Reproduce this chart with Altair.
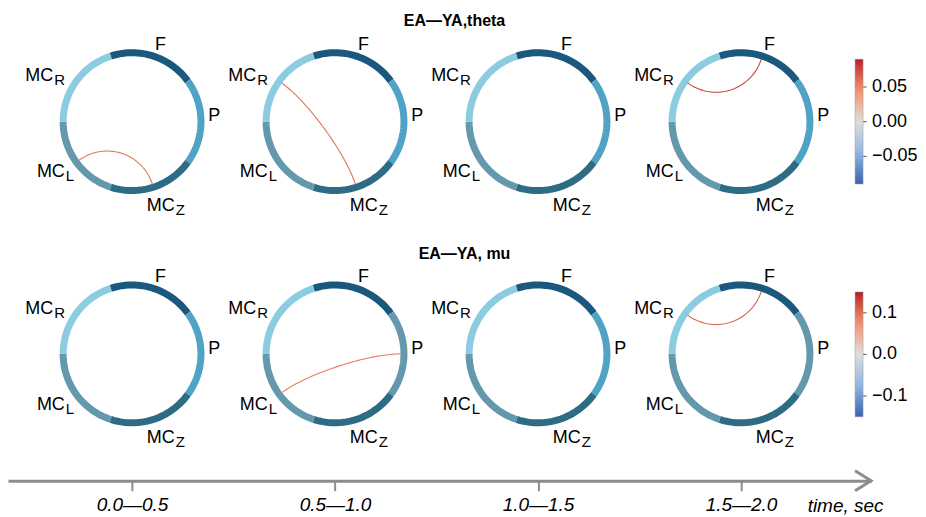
import math
import numpy as np
import pandas as pd
import altair as alt

# ---------------- data ----------------
WINDOW_LABELS = ["0.0—0.5", "0.5—1.0", "1.0—1.5", "1.5—2.0"]
WINDOW_START = [0.0, 0.5, 1.0, 1.5]
WINDOW_END = [0.5, 1.0, 1.5, 2.0]
BANDS = ["theta", "mu"]
BAND_TITLES = ["EA—YA,theta", "EA—YA, mu"]

NODES = ["F", "P", "MC_Z", "MC_L", "MC_R"]
NODE_TEXT = ["F", "P", "MC", "MC", "MC"]
NODE_SUB = ["", "", "Z", "L", "R"]
NODE_ANGLE_DEG = [72, 0, -72, -144, 144]
NODE_COLORS = ["#1a587d", "#50a3c4", "#2e6c85", "#6498ad", "#8ccce0"]
MU_P_COLORS = ["#50a3c4", "#6498ad", "#50a3c4", "#6498ad"]

THETA_WIN = [0, 1, 3]
THETA_FROM = ["MC_L", "MC_R", "MC_R"]
THETA_TO = ["MC_Z", "MC_Z", "F"]
THETA_VAL = [0.055, 0.058, 0.078]

MU_WIN = [1, 3]
MU_FROM = ["MC_L", "MC_R"]
MU_TO = ["P", "F"]
MU_VAL = [0.09, 0.11]

THETA_LIM = 0.09
MU_LIM = 0.15
THETA_TICKS = [-0.05, 0.0, 0.05]
MU_TICKS = [-0.1, 0.0, 0.1]
CMAP = ["#3a62b3", "#92b6e4", "#dddddd", "#f2906f", "#b8172d"]

# ---------------- layout (pixels) ----------------
PX = 406.4            # pixels per second along the time axis
PLOT_W, PLOT_H = 864, 473
X_MID_PX = 429        # pixel position of t = 1.0 s
ROW_PX = [113.5, 346]
R_RING = 69 / PX
R_CHORD = 66 / PX
RING_W = 7
LABEL_ANCHOR_PX = {"F": (34, -71.7), "P": (88.3, -0.3), "MC_Z": (42.7, 89),
                   "MC_L": (-67.3, 55.7), "MC_R": (-79, -40.3)}
TITLE_UP_PX = 95.5
TITLE_DX_PX = [18, 28]
CBAR_X_PX = 848
CBAR_Y_PX = [51, 284]
CBAR_LEN = 125
CBAR_W = 8
GREY = "#8c8c8c"
FONT = "Liberation Sans"

x_min = 1 - X_MID_PX / PX
x_max = x_min + PLOT_W / PX
y_max = 0.0
y_min = -PLOT_H / PX


def row_y(b):
    return -ROW_PX[b] / PX


def win_x(w):
    return (WINDOW_START[w] + WINDOW_END[w]) / 2


def pol(cx, cy, r, deg):
    a = math.radians(deg)
    return cx + r * math.cos(a), cy + r * math.sin(a)


# ring segments
ring = []
for b in range(2):
    for w in range(4):
        cx, cy = win_x(w), row_y(b)
        for n, name in enumerate(NODES):
            col = NODE_COLORS[n]
            if BANDS[b] == "mu" and name == "P":
                col = MU_P_COLORS[w]
            a0 = NODE_ANGLE_DEG[n] - 36
            for k, a in enumerate(np.linspace(a0, a0 + 72, 30)):
                x, y = pol(cx, cy, R_RING, a)
                ring.append(dict(seg=f"{b}-{w}-{n}", k=k, x=x, y=y, color=col))
ring_df = pd.DataFrame(ring)


def chords(b, wins, froms, tos, vals):
    out = []
    cy = row_y(b)
    for i, (w, f, t, v) in enumerate(zip(wins, froms, tos, vals)):
        cx = win_x(w)
        a0 = NODE_ANGLE_DEG[NODES.index(f)]
        a1 = NODE_ANGLE_DEG[NODES.index(t)]
        p0 = pol(cx, cy, R_CHORD, a0)
        c1 = pol(cx, cy, R_CHORD * 0.5, a0)
        c2 = pol(cx, cy, R_CHORD * 0.5, a1)
        p3 = pol(cx, cy, R_CHORD, a1)
        for k, s in enumerate(np.linspace(0, 1, 60)):
            u = 1 - s
            x = u**3 * p0[0] + 3 * u * u * s * c1[0] + 3 * u * s * s * c2[0] + s**3 * p3[0]
            y = u**3 * p0[1] + 3 * u * u * s * c1[1] + 3 * u * s * s * c2[1] + s**3 * p3[1]
            out.append(dict(cid=f"{b}-{i}", k=k, x=x, y=y, value=v))
    return pd.DataFrame(out)


theta_df = chords(0, THETA_WIN, THETA_FROM, THETA_TO, THETA_VAL)
mu_df = chords(1, MU_WIN, MU_FROM, MU_TO, MU_VAL)

labels = []
for b in range(2):
    for w in range(4):
        cx, cy = win_x(w), row_y(b)
        for n, name in enumerate(NODES):
            dx, dy = LABEL_ANCHOR_PX[name]
            labels.append(dict(x=cx + dx / PX, y=cy - dy / PX,
                               main=NODE_TEXT[n], sub=NODE_SUB[n]))
labels_df = pd.DataFrame(labels)

titles_df = pd.DataFrame(dict(x=[1.0 + TITLE_DX_PX[b] / PX for b in range(2)],
                              y=[row_y(b) + TITLE_UP_PX / PX for b in range(2)],
                              text=BAND_TITLES))
arrow_df = pd.DataFrame(dict(x=[x_max], y=[y_min]))

# colorbar tick marks (small dashes right of the gradient)
cb_ticks = []
for lim, ticks, ly in [(THETA_LIM, THETA_TICKS, CBAR_Y_PX[0]), (MU_LIM, MU_TICKS, CBAR_Y_PX[1])]:
    for v in ticks:
        ypx = ly + (lim - v) / (2 * lim) * CBAR_LEN
        cb_ticks.append(dict(x=x_min + (CBAR_X_PX + CBAR_W) / PX,
                             x2=x_min + (CBAR_X_PX + CBAR_W + 3.5) / PX,
                             y=-ypx / PX))
cb_df = pd.DataFrame(cb_ticks)

# ---------------- encodings ----------------
label_expr = ""
for w in range(len(WINDOW_LABELS) - 1):
    label_expr += f"datum.value < {WINDOW_END[w]} ? '{WINDOW_LABELS[w]}' : "
label_expr += f"'{WINDOW_LABELS[-1]}'"

x_axis = alt.Axis(values=[win_x(w) for w in range(4)], labelExpr=label_expr,
                  title="time, sec", titleX=838, titleY=31, titleAlign="center",
                  titleBaseline="alphabetic", titleFontStyle="italic",
                  titleFontWeight="normal", titleFont=FONT, titleFontSize=19,
                  titleColor="black", titleAngle=0,
                  labelFont=FONT, labelFontStyle="italic", labelFontSize=19,
                  labelColor="black", labelPadding=5, tickSize=10, tickWidth=2,
                  tickColor=GREY, domainColor=GREY, domainWidth=3, grid=False,
                  labelFlush=False, labelOverlap=False)


def X(field="x:Q"):
    return alt.X(field, scale=alt.Scale(domain=[x_min, x_max], nice=False, zero=False),
                 axis=x_axis)


def Y():
    return alt.Y("y:Q", scale=alt.Scale(domain=[y_min, y_max], nice=False, zero=False),
                 axis=None)


ring_layer = alt.Chart(ring_df).mark_line(strokeWidth=RING_W, strokeCap="butt").encode(
    x=X(), y=Y(), detail="seg:N", order="k:Q",
    color=alt.Color("color:N", scale=None))


def legend(lim, ticks, fmt, ly):
    return alt.Legend(orient="none", legendX=CBAR_X_PX, legendY=ly, direction="vertical",
                      gradientLength=CBAR_LEN, gradientThickness=CBAR_W, title=None,
                      values=ticks, padding=0,
                      labelExpr=f"replace(format(datum.value, '{fmt}'), '-', '−')",
                      labelFont=FONT, labelFontSize=18, labelColor="black",
                      labelOffset=9, labelOverlap=False,
                      gradientStrokeColor="#999999", gradientStrokeWidth=0.5)


def cscale(lim):
    return alt.Scale(domain=[-lim, -lim / 2, 0, lim / 2, lim], range=CMAP)


theta_layer = alt.Chart(theta_df).mark_line(strokeWidth=1.1).encode(
    x=X(), y=Y(), detail="cid:N", order="k:Q",
    color=alt.Color("value:Q", scale=cscale(THETA_LIM),
                    legend=legend(THETA_LIM, THETA_TICKS, ".2f", CBAR_Y_PX[0])))

mu_layer = alt.Chart(mu_df).mark_line(strokeWidth=1.1).encode(
    x=X(), y=Y(), detail="cid:N", order="k:Q",
    color=alt.Color("value:Q", scale=cscale(MU_LIM),
                    legend=legend(MU_LIM, MU_TICKS, ".1f", CBAR_Y_PX[1])))

cb_tick_layer = alt.Chart(cb_df).mark_rule(color="#555555", strokeWidth=1).encode(
    x=X(), x2="x2:Q", y=Y())

main_text = alt.Chart(labels_df).mark_text(
    align="right", baseline="alphabetic", font=FONT, fontSize=18, color="black").encode(
    x=X(), y=Y(), text="main:N")

sub_text = alt.Chart(labels_df).transform_filter("datum.sub != ''").mark_text(
    align="left", baseline="alphabetic", font=FONT, fontSize=15, dx=1, dy=4,
    color="black").encode(x=X(), y=Y(), text="sub:N")

title_text = alt.Chart(titles_df).mark_text(
    align="center", baseline="alphabetic", font=FONT, fontSize=16,
    fontWeight="bold", color="black").encode(x=X(), y=Y(), text="text:N")

arrow = alt.Chart(arrow_df).mark_point(
    shape="M -1 -0.62 L 0 0 L -1 0.62", size=1024, filled=False, stroke=GREY,
    strokeWidth=3, opacity=1).encode(x=X(), y=Y())

chart = alt.layer(ring_layer, theta_layer, mu_layer, cb_tick_layer, main_text, sub_text,
                  title_text, arrow).resolve_scale(color="independent").properties(
    width=PLOT_W, height=PLOT_H, padding=0, background="white"
).configure_view(stroke=None)

chart.save("out.html", embed_options={"renderer": "svg", "actions": False})
